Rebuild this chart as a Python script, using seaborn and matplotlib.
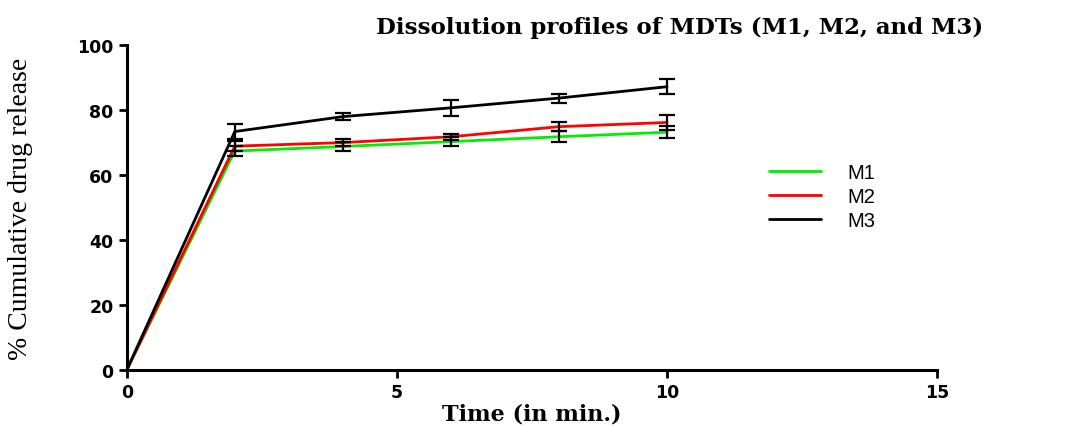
import matplotlib
matplotlib.use("Agg")
import matplotlib.pyplot as plt
import seaborn as sns
import pandas as pd

# data
time = [0, 2, 4, 6, 8, 10]
m1 = [0, 67.4, 68.8, 70.3, 71.8, 73.2]
m1_err = [0, 1.5, 1.4, 1.5, 1.7, 1.8]
m2 = [0, 68.9, 70.0, 71.8, 74.9, 76.2]
m2_err = [0, 1.5, 1.1, 1.0, 1.4, 2.4]
m3 = [0, 73.4, 78.0, 80.7, 83.7, 87.2]
m3_err = [0, 2.4, 1.1, 2.4, 1.4, 2.3]
names = ["M1", "M2", "M3"]
colors = ["#00ee00", "#ff0000", "#000000"]

rows = []
for name, vals, errs in zip(names, [m1, m2, m3], [m1_err, m2_err, m3_err]):
    for t, v, e in zip(time, vals, errs):
        rows.append({"time": t, "release": v, "err": e, "batch": name})
df = pd.DataFrame(rows)

sns.set_style("ticks", {"text.color": "black", "axes.labelcolor": "black",
                        "xtick.color": "black", "ytick.color": "black",
                        "axes.edgecolor": "black"})
plt.rcParams['font.family'] = ['Liberation Sans', 'DejaVu Sans']

fig = plt.figure(figsize=(10.65, 4.27), dpi=100)
ax = fig.add_axes([0.119, 0.131, 0.761, 0.761])

sns.lineplot(data=df, x="time", y="release", hue="batch", palette=colors,
             linewidth=2, ax=ax, legend=True)

for name, c in zip(names, colors):
    sub = df[df["batch"] == name]
    ax.errorbar(sub["time"][1:], sub["release"][1:], yerr=sub["err"][1:], fmt="none",
                ecolor="black", elinewidth=1.6, capsize=6, capthick=1.6)

ax.set_xlim(0, 15)
ax.set_ylim(0, 100)
ax.set_xticks([0, 5, 10, 15])
ax.set_yticks([0, 20, 40, 60, 80, 100])
sns.despine(ax=ax)
for s in ["left", "bottom"]:
    ax.spines[s].set_linewidth(2.2)
ax.tick_params(width=2, length=6, labelsize=12.5, colors="black")
for lab in ax.get_xticklabels() + ax.get_yticklabels():
    lab.set_family("DejaVu Sans")
    lab.set_fontweight("bold")

ax.set_xlabel("Time (in min.)", family="DejaVu Serif", fontweight="bold",
              fontsize=16, labelpad=1)
ax.set_ylabel("% Cumulative drug release", family="Liberation Serif",
              fontsize=20, labelpad=32)
fig.text(0.638, 0.935, "Dissolution profiles of MDTs (M1, M2, and M3)",
         family="DejaVu Serif", fontweight="bold", fontsize=16.5, ha="center", va="center")

leg = ax.legend(frameon=False, loc="center left", bbox_to_anchor=(0.77, 0.535),
                fontsize=14.5, handlelength=2.6, handletextpad=1.3, labelspacing=0.25)
for line in leg.get_lines():
    line.set_linewidth(2)

fig.savefig("out.png", dpi=100)
